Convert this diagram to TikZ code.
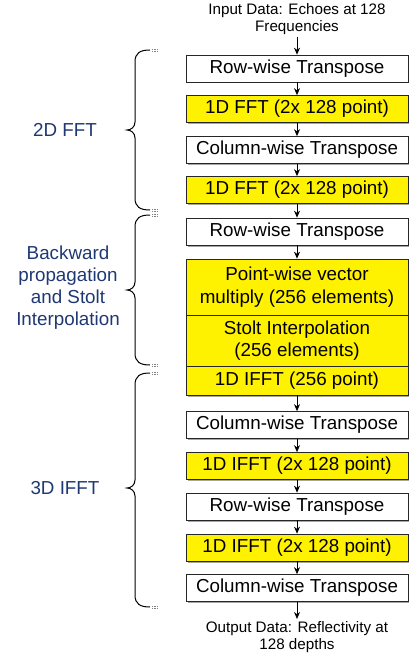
\documentclass[tikz,border=0pt]{standalone}
\usepackage{fontspec}
\setmainfont{Liberation Sans}
\usepackage{tikz}
\usetikzlibrary{arrows.meta,shadows}
\definecolor{labelblue}{RGB}{31,56,115}

\begin{document}
\begin{tikzpicture}[x=1pt,y=1pt,yscale=-1,xscale=1,
  stage/.style={draw=black!85, line width=0.7pt, fill=white, minimum width=222pt, minimum height=27pt, inner sep=1pt, align=center, font=\fontsize{18.8}{22.5}\selectfont, drop shadow={shadow xshift=1.5pt, shadow yshift=-1.5pt, fill=black!35, opacity=1}},
  kernel/.style={stage, fill=yellow},
  note/.style={align=center, inner sep=2pt, font=\fontsize{15.2}{17.5}\selectfont},
  group/.style={align=center, text=labelblue, font=\fontsize{18.8}{22}\selectfont},
  flow/.style={-{Stealth[length=7pt,width=6pt]}, line width=0.8pt},
  brace/.style={line width=1pt, black},
  stub/.style={gray, line width=0.6pt, dash pattern=on 1.2pt off 1.2pt}]
\useasboundingbox (0,0) rectangle (409,658);

% Input / output text
\node[note] (in) at (297,19) {Input Data: Echoes at 128\\Frequencies};
\node[note] (out) at (297,637) {Output Data: Reflectivity at\\128 depths};

% 2D FFT
\node[stage] (rowA) at (297,68.5) {Row-wise Transpose};
\node[kernel] (fftA) at (297,109) {1D FFT (2x 128 point)};
\node[stage] (colA) at (297,150) {Column-wise Transpose};
\node[kernel] (fftB) at (297,190) {1D FFT (2x 128 point)};

% Backward propagation and Stolt interpolation
\node[stage] (rowB) at (297,231.5) {Row-wise Transpose};
\node[kernel, minimum height=56pt] (mult) at (297,287) {Point-wise vector\\multiply (256 elements)};
\node[kernel, minimum height=51.5pt] (stolt) at (297,340.75) {Stolt Interpolation\\(256 elements)};

% 3D IFFT
\node[kernel, minimum height=28.5pt] (ifftA) at (297,380.75) {1D IFFT (256 point)};
\node[stage] (colB) at (297,425) {Column-wise Transpose};
\node[kernel] (ifftB) at (297,466) {1D IFFT (2x 128 point)};
\node[stage] (rowC) at (297,506.5) {Row-wise Transpose};
\node[kernel] (ifftC) at (297,547.5) {1D IFFT (2x 128 point)};
\node[stage] (colC) at (297,588) {Column-wise Transpose};

% Arrows
\draw[flow] (in) -- (rowA);
\draw[flow] (rowA) -- (fftA);
\draw[flow] (fftA) -- (colA);
\draw[flow] (colA) -- (fftB);
\draw[flow] (fftB) -- (rowB);
\draw[flow] (rowB) -- (mult);
\draw[flow] (ifftA) -- (colB);
\draw[flow] (colB) -- (ifftB);
\draw[flow] (ifftB) -- (rowC);
\draw[flow] (rowC) -- (ifftC);
\draw[flow] (ifftC) -- (colC);
\draw[flow] (colC) -- (out);

% Group labels
\node[group] (grpA) at (65,130) {2D FFT};
\node[group] (grpB) at (68,288) {Backward\\propagation\\and Stolt\\Interpolation};
\node[group] (grpC) at (65,488) {3D IFFT};

%Curve Lines: brace for 2D FFT
\draw[brace] (150,50) .. controls (140,50) and (135,53) .. (135,62) -- (135,122) .. controls (135,127) and (131,130) .. (127,130) .. controls (131,130) and (135,133) .. (135,138) -- (135,198) .. controls (135,207) and (140,210) .. (150,210);
\draw[stub] (152,49) -- (159,49);
\draw[stub] (152,51) -- (159,51);
\draw[stub] (152,209) -- (159,209);
\draw[stub] (152,211) -- (159,211);

%Curve Lines: brace for propagation
\draw[brace] (150,215) .. controls (140,215) and (135,218) .. (135,227) -- (135,282) .. controls (135,287) and (131,290) .. (127,290) .. controls (131,290) and (135,293) .. (135,298) -- (135,353) .. controls (135,362) and (140,365) .. (150,365);
\draw[stub] (152,214) -- (159,214);
\draw[stub] (152,216) -- (159,216);
\draw[stub] (152,364) -- (159,364);
\draw[stub] (152,366) -- (159,366);

%Curve Lines: brace for 3D IFFT
\draw[brace] (150,373) .. controls (140,373) and (135,376) .. (135,385) -- (135,480) .. controls (135,485) and (131,488) .. (127,488) .. controls (131,488) and (135,491) .. (135,496) -- (135,595) .. controls (135,604) and (140,607) .. (150,607);
\draw[stub] (152,372) -- (159,372);
\draw[stub] (152,374) -- (159,374);
\draw[stub] (152,606) -- (159,606);
\draw[stub] (152,608) -- (159,608);
\end{tikzpicture}
\end{document}
